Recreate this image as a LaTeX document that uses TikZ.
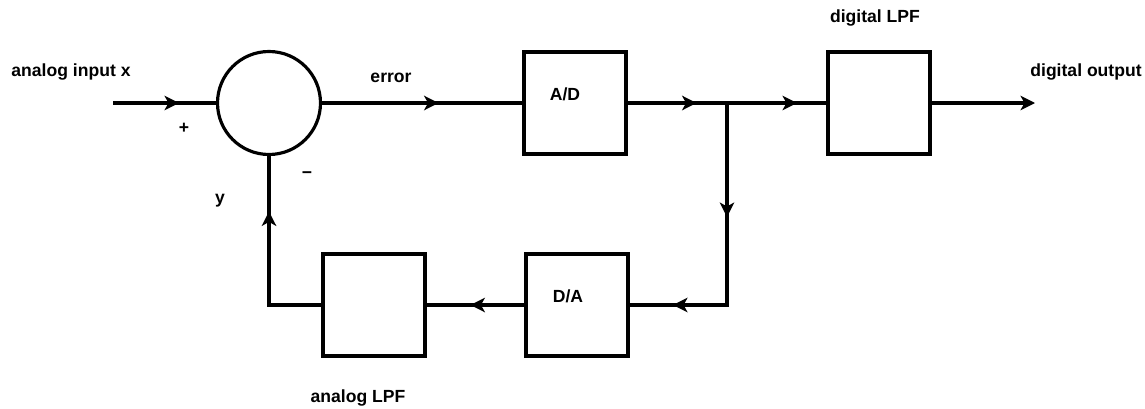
\documentclass[tikz,border=0pt]{standalone}
\usepackage{fontspec}
\setmainfont{Liberation Sans}
\usetikzlibrary{arrows.meta,decorations.markings}
\tikzset{
  wire/.style={line width=1.8pt},
  block/.style={draw, line width=1.8pt, minimum width=2.04cm, minimum height=2.04cm, inner sep=0pt},
  summer/.style={draw, circle, line width=1.8pt, minimum size=2.06cm, inner sep=0pt},
  flow/.style={postaction={decorate, decoration={markings,
      mark=at position #1 with {\arrow{Stealth[length=2.9mm, width=2.9mm, inset=0.8mm]}}}}},
}
\begin{document}
\begin{tikzpicture}[font=\bfseries]
  \useasboundingbox (0,0) rectangle (22.9,8.16);
  % forward path: summer, A/D, digital LPF; feedback: D/A, analog LPF
  \node[summer] (sum) at (5.38,6.1) {};
  \node[block] (adc) at (11.5,6.1) {};
  \node[block] (dlpf) at (17.58,6.1) {};
  \node[block] (dac) at (11.54,2.06) {};
  \node[block] (alpf) at (7.48,2.06) {};
  \coordinate (in) at (2.26,6.1);
  \coordinate (split) at (14.54,6.1);
  \coordinate (out) at (20.7,6.1);

  \draw[wire, flow=1.32cm] (in) -- (sum);
  \draw[wire, flow=2.33cm] (sum) -- (adc);
  \draw[wire, flow=1.38cm] (adc) -- (split);
  \draw[wire, flow=1.4cm] (split) -- (dlpf);
  \draw[wire, -{Stealth[length=2.9mm, width=2.9mm, inset=0.8mm]}] (dlpf) -- (out);
  \draw[wire, flow=2.28cm, flow=5.12cm] (split) |- (dac);
  \draw[wire, flow=1.08cm] (dac) -- (alpf);
  \draw[wire, flow=2.92cm] (alpf) -| (sum);

  \node (inlabel) at (1.42,6.72) {analog input x};
  \node (plus) at (3.68,5.6) {+};
  \node (minus) at (6.14,4.66) {−};
  \node (ylabel) at (4.4,4.14) {y};
  \node (errlabel) at (7.82,6.6) {error};
  \node (adclabel) at (11.3,6.28) {A/D};
  \node (daclabel) at (11.36,2.24) {D/A};
  \node (dlpflabel) at (17.5,7.8) {digital LPF};
  \node (outlabel) at (21.72,6.72) {digital output};
  \node (alpflabel) at (7.16,0.2) {analog LPF};
\end{tikzpicture}
\end{document}
